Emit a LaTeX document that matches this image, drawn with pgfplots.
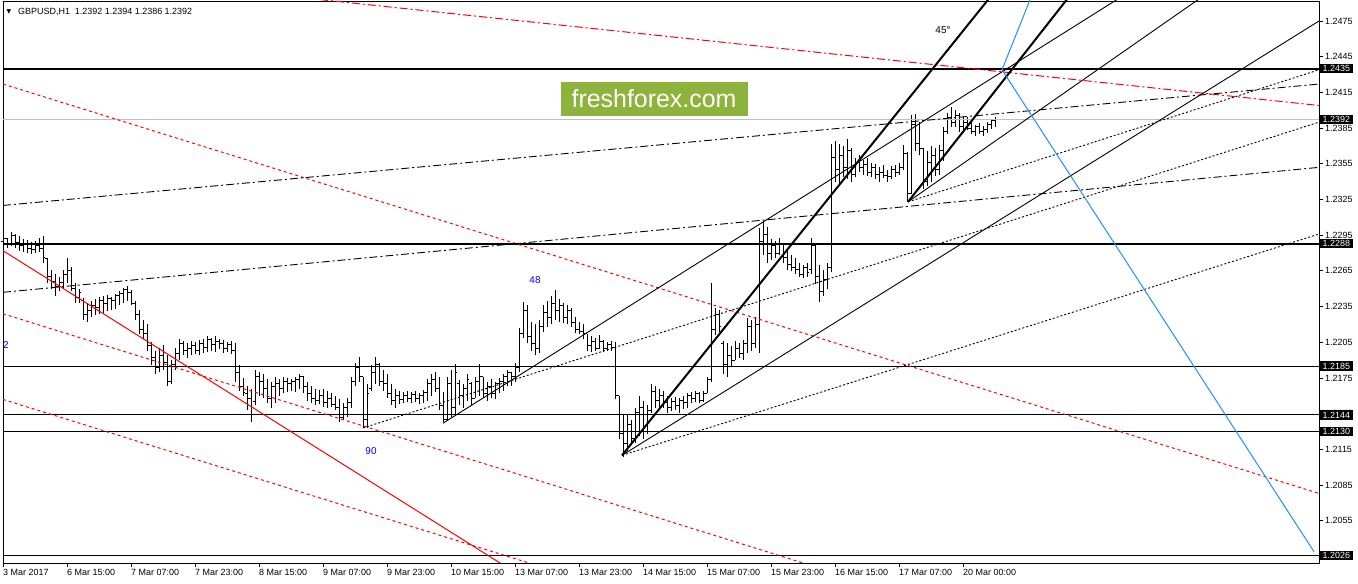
\documentclass[border=0pt]{standalone}
\usepackage{pgfplots}
\pgfplotsset{compat=1.18}
\usepackage{pgfplotstable}
\usepackage{fontspec}
\setmainfont{Liberation Sans}
\newfontfamily\symfont{DejaVu Sans}

\definecolor{mtblue}{RGB}{30,144,255}
\definecolor{mtgreen}{RGB}{141,179,60}
\definecolor{mtgray}{RGB}{192,192,192}
\definecolor{lblue}{RGB}{0,0,255}

% GBPUSD H1 bars: x position (4 per bar), open high low close
\pgfplotstableread{
x o h l c
3 1.2290 1.2297 1.2285 1.2292
7 1.2292 1.2293 1.2284 1.2287
11 1.2287 1.2298 1.2286 1.2295
15 1.2295 1.2296 1.2284 1.2289
19 1.2289 1.2294 1.2282 1.2286
23 1.2286 1.2292 1.2281 1.2288
27 1.2288 1.2291 1.2280 1.2284
31 1.2284 1.2289 1.2279 1.2283
35 1.2283 1.2290 1.2280 1.2286
39 1.2286 1.2293 1.2281 1.2284
43 1.2284 1.2294 1.2272 1.2276
47 1.2275 1.2276 1.2255 1.2260
51 1.2260 1.2266 1.2250 1.2256
55 1.2256 1.2262 1.2244 1.2252
59 1.2252 1.2260 1.2248 1.2255
63 1.2255 1.2266 1.2250 1.2262
67 1.2262 1.2276 1.2255 1.2265
71 1.2265 1.2268 1.2248 1.2250
75 1.2250 1.2255 1.2238 1.2243
79 1.2243 1.2250 1.2238 1.2247
83 1.2240 1.2242 1.2224 1.2228
87 1.2228 1.2238 1.2222 1.2232
91 1.2232 1.2240 1.2226 1.2236
95 1.2236 1.2241 1.2228 1.2234
99 1.2234 1.2243 1.2229 1.2240
103 1.2240 1.2244 1.2230 1.2238
107 1.2238 1.2245 1.2231 1.2242
111 1.2242 1.2243 1.2232 1.2240
115 1.2240 1.2246 1.2233 1.2244
119 1.2244 1.2248 1.2236 1.2246
123 1.2246 1.2251 1.2238 1.2249
127 1.2249 1.2252 1.2240 1.2247
131 1.2247 1.2249 1.2236 1.2238
135 1.2238 1.2240 1.2224 1.2228
139 1.2228 1.2232 1.2212 1.2216
143 1.2216 1.2224 1.2208 1.2212
147 1.2212 1.2220 1.2198 1.2202
151 1.2202 1.2205 1.2186 1.2192
155 1.2192 1.2198 1.2178 1.2184
159 1.2184 1.2200 1.2180 1.2194
163 1.2194 1.2203 1.2182 1.2188
167 1.2188 1.2194 1.2168 1.2172
171 1.2172 1.2190 1.2170 1.2186
175 1.2186 1.2200 1.2182 1.2196
179 1.2196 1.2208 1.2190 1.2204
183 1.2204 1.2206 1.2194 1.2198
187 1.2198 1.2204 1.2192 1.2200
191 1.2200 1.2206 1.2194 1.2202
195 1.2202 1.2205 1.2195 1.2198
199 1.2198 1.2207 1.2194 1.2204
203 1.2204 1.2208 1.2196 1.2201
207 1.2201 1.2210 1.2197 1.2207
211 1.2207 1.2209 1.2198 1.2203
215 1.2203 1.2210 1.2197 1.2206
219 1.2206 1.2208 1.2199 1.2204
223 1.2204 1.2207 1.2196 1.2200
227 1.2200 1.2205 1.2197 1.2203
231 1.2203 1.2206 1.2195 1.2198
235 1.2198 1.2204 1.2172 1.2180
239 1.2180 1.2186 1.2164 1.2168
243 1.2168 1.2175 1.2160 1.2163
247 1.2162 1.2168 1.2148 1.2158
251 1.2158 1.2166 1.2138 1.2150
255 1.2155 1.2182 1.2152 1.2176
259 1.2176 1.2180 1.2160 1.2172
263 1.2172 1.2178 1.2158 1.2166
267 1.2166 1.2174 1.2154 1.2158
271 1.2158 1.2172 1.2150 1.2168
275 1.2168 1.2176 1.2154 1.2170
279 1.2170 1.2174 1.2160 1.2166
283 1.2166 1.2176 1.2162 1.2172
287 1.2172 1.2175 1.2163 1.2170
291 1.2170 1.2174 1.2164 1.2172
295 1.2172 1.2176 1.2163 1.2174
299 1.2174 1.2178 1.2166 1.2176
303 1.2176 1.2177 1.2162 1.2168
307 1.2168 1.2172 1.2156 1.2162
311 1.2162 1.2168 1.2154 1.2158
315 1.2158 1.2166 1.2152 1.2156
319 1.2156 1.2165 1.2153 1.2160
323 1.2160 1.2166 1.2151 1.2154
327 1.2154 1.2164 1.2150 1.2158
331 1.2158 1.2162 1.2151 1.2153
335 1.2153 1.2160 1.2148 1.2150
339 1.2150 1.2157 1.2138 1.2142
343 1.2142 1.2154 1.2140 1.2150
347 1.2150 1.2158 1.2142 1.2154
351 1.2154 1.2176 1.2150 1.2172
355 1.2172 1.2188 1.2168 1.2184
359 1.2184 1.2193 1.2172 1.2176
363 1.2176 1.2176 1.2133 1.2140
367 1.2140 1.2170 1.2133 1.2162
371 1.2166 1.2186 1.2164 1.2180
375 1.2180 1.2193 1.2170 1.2186
379 1.2186 1.2188 1.2168 1.2172
383 1.2172 1.2182 1.2164 1.2170
387 1.2170 1.2178 1.2158 1.2162
391 1.2162 1.2170 1.2152 1.2156
395 1.2156 1.2166 1.2150 1.2160
399 1.2160 1.2164 1.2153 1.2157
403 1.2157 1.2163 1.2154 1.2160
407 1.2160 1.2164 1.2155 1.2158
411 1.2158 1.2163 1.2154 1.2161
415 1.2161 1.2164 1.2155 1.2158
419 1.2158 1.2162 1.2153 1.2160
423 1.2160 1.2165 1.2154 1.2163
427 1.2163 1.2174 1.2156 1.2170
431 1.2170 1.2178 1.2160 1.2174
435 1.2174 1.2180 1.2163 1.2166
439 1.2166 1.2176 1.2148 1.2152
443 1.2152 1.2163 1.2138 1.2140
447 1.2140 1.2176 1.2140 1.2170
451 1.2170 1.2182 1.2142 1.2150
455 1.2150 1.2187 1.2143 1.2180
459 1.2170 1.2173 1.2152 1.2160
463 1.2160 1.2170 1.2150 1.2166
467 1.2166 1.2178 1.2156 1.2174
471 1.2170 1.2172 1.2152 1.2158
475 1.2158 1.2176 1.2158 1.2172
479 1.2172 1.2187 1.2160 1.2176
483 1.2176 1.2176 1.2158 1.2162
487 1.2162 1.2172 1.2156 1.2168
491 1.2168 1.2174 1.2158 1.2162
495 1.2162 1.2172 1.2157 1.2170
499 1.2170 1.2175 1.2162 1.2172
503 1.2172 1.2178 1.2164 1.2176
507 1.2176 1.2182 1.2168 1.2180
511 1.2180 1.2180 1.2168 1.2176
515 1.2176 1.2188 1.2172 1.2184
519 1.2184 1.2217 1.2180 1.2212
523 1.2212 1.2239 1.2209 1.2232
527 1.2232 1.2236 1.2204 1.2210
531 1.2210 1.2222 1.2198 1.2204
535 1.2204 1.2220 1.2194 1.2200
539 1.2200 1.2224 1.2196 1.2218
543 1.2218 1.2236 1.2214 1.2230
547 1.2230 1.2240 1.2218 1.2226
551 1.2226 1.2244 1.2220 1.2238
555 1.2238 1.2249 1.2224 1.2232
559 1.2232 1.2241 1.2222 1.2236
563 1.2236 1.2238 1.2221 1.2226
567 1.2226 1.2236 1.2220 1.2232
571 1.2232 1.2234 1.2218 1.2222
575 1.2222 1.2226 1.2213 1.2216
579 1.2216 1.2222 1.2212 1.2214
583 1.2214 1.2220 1.2208 1.2212
587 1.2212 1.2212 1.2198 1.2202
591 1.2202 1.2210 1.2197 1.2206
595 1.2206 1.2209 1.2198 1.2200
599 1.2200 1.2211 1.2199 1.2206
603 1.2206 1.2207 1.2197 1.2200
607 1.2200 1.2205 1.2198 1.2203
611 1.2203 1.2206 1.2198 1.2201
615 1.2201 1.2205 1.2157 1.2160
619 1.2160 1.2160 1.2124 1.2128
623 1.2128 1.2144 1.2109 1.2120
627 1.2120 1.2144 1.2114 1.2136
631 1.2136 1.2140 1.2119 1.2124
635 1.2124 1.2150 1.2120 1.2146
639 1.2146 1.2160 1.2126 1.2150
643 1.2150 1.2156 1.2124 1.2130
647 1.2130 1.2152 1.2128 1.2148
651 1.2148 1.2170 1.2146 1.2164
655 1.2164 1.2168 1.2150 1.2156
659 1.2156 1.2166 1.2148 1.2160
663 1.2160 1.2164 1.2150 1.2154
667 1.2154 1.2160 1.2146 1.2150
671 1.2150 1.2158 1.2147 1.2155
675 1.2155 1.2159 1.2148 1.2152
679 1.2152 1.2158 1.2146 1.2156
683 1.2156 1.2160 1.2149 1.2154
687 1.2154 1.2162 1.2150 1.2160
691 1.2160 1.2163 1.2154 1.2158
695 1.2158 1.2164 1.2155 1.2162
699 1.2162 1.2163 1.2154 1.2156
703 1.2156 1.2164 1.2155 1.2162
707 1.2162 1.2176 1.2162 1.2174
711 1.2174 1.2255 1.2172 1.2216
715 1.2216 1.2234 1.2211 1.2228
719 1.2228 1.2232 1.2214 1.2218
723 1.2204 1.2206 1.2178 1.2186
727 1.2186 1.2204 1.2176 1.2194
731 1.2194 1.2202 1.2184 1.2190
735 1.2190 1.2206 1.2190 1.2200
739 1.2200 1.2204 1.2192 1.2196
743 1.2196 1.2207 1.2190 1.2204
747 1.2204 1.2225 1.2196 1.2218
751 1.2218 1.2224 1.2198 1.2204
755 1.2204 1.2226 1.2200 1.2220
759 1.2220 1.2301 1.2196 1.2290
763 1.2290 1.2307 1.2278 1.2296
767 1.2296 1.2302 1.2272 1.2280
771 1.2280 1.2292 1.2274 1.2286
775 1.2286 1.2290 1.2276 1.2280
779 1.2280 1.2293 1.2278 1.2288
783 1.2288 1.2288 1.2272 1.2276
787 1.2276 1.2282 1.2266 1.2270
791 1.2270 1.2278 1.2265 1.2268
795 1.2268 1.2276 1.2262 1.2266
799 1.2266 1.2272 1.2260 1.2262
803 1.2262 1.2270 1.2259 1.2268
807 1.2268 1.2272 1.2260 1.2264
811 1.2266 1.2293 1.2262 1.2286
815 1.2286 1.2287 1.2254 1.2260
819 1.2260 1.2270 1.2239 1.2248
823 1.2248 1.2266 1.2244 1.2258
827 1.2258 1.2272 1.2250 1.2268
831 1.2268 1.2372 1.2264 1.2360
835 1.2360 1.2374 1.2340 1.2350
839 1.2350 1.2372 1.2336 1.2362
843 1.2362 1.2370 1.2344 1.2352
847 1.2352 1.2376 1.2342 1.2366
851 1.2366 1.2368 1.2340 1.2346
855 1.2346 1.2360 1.2344 1.2356
859 1.2356 1.2362 1.2348 1.2352
863 1.2352 1.2358 1.2346 1.2354
867 1.2354 1.2360 1.2345 1.2348
871 1.2348 1.2356 1.2344 1.2352
875 1.2352 1.2355 1.2342 1.2346
879 1.2346 1.2352 1.2340 1.2348
883 1.2348 1.2354 1.2343 1.2345
887 1.2345 1.2350 1.2340 1.2344
891 1.2344 1.2353 1.2342 1.2350
895 1.2350 1.2354 1.2344 1.2348
899 1.2348 1.2356 1.2346 1.2352
903 1.2352 1.2371 1.2350 1.2364
907 1.2364 1.2365 1.2323 1.2330
911 1.2330 1.2396 1.2330 1.2388
915 1.2388 1.2397 1.2366 1.2372
919 1.2372 1.2390 1.2362 1.2368
923 1.2368 1.2368 1.2334 1.2340
927 1.2340 1.2366 1.2336 1.2356
931 1.2356 1.2370 1.2340 1.2362
935 1.2362 1.2368 1.2345 1.2350
939 1.2350 1.2371 1.2346 1.2366
943 1.2366 1.2386 1.2357 1.2382
947 1.2382 1.2398 1.2380 1.2394
951 1.2394 1.2403 1.2386 1.2390
955 1.2390 1.2400 1.2386 1.2396
959 1.2396 1.2398 1.2382 1.2386
963 1.2386 1.2395 1.2381 1.2390
967 1.2390 1.2394 1.2383 1.2385
971 1.2385 1.2390 1.2380 1.2382
975 1.2382 1.2388 1.2378 1.2386
979 1.2386 1.2389 1.2380 1.2382
983 1.2382 1.2387 1.2378 1.2384
987 1.2384 1.2390 1.2381 1.2388
991 1.2388 1.2393 1.2384 1.2391
995 1.2391 1.2394 1.2386 1.2392
}\bars

\tikzset{
  mtdot/.style={dash pattern=on 2bp off 2bp},
  mtdash/.style={dash pattern=on 3bp off 3bp},
  mtdashdot/.style={dash pattern=on 8bp off 3bp on 2bp off 3bp},
  lvl/.style={fill=black, text=white, anchor=west, inner xsep=2.5bp, inner ysep=1.5bp,
    font=\fontsize{9}{10}\selectfont},
}

\begin{document}
\begin{tikzpicture}
\path[use as bounding box] (-3bp,-21bp) rectangle (1355bp,563bp);
\begin{axis}[
  at={(0,0)}, anchor=south west,
  scale only axis, width=1316bp, height=562bp,
  xmin=3, xmax=1319, ymin=1.2019538, ymax=1.2491807,
  clip mode=individual,
  axis line style={black, line width=0.9bp},
  tick style={black, line width=0.9bp},
  tick align=outside, major tick length=4bp,
  xtick pos=bottom, ytick pos=right,
  xtick={3,67,131,195,259,323,387,451,515,579,643,707,771,835,899,963},
  xticklabels={3 Mar 2017,6 Mar 15:00,7 Mar 07:00,7 Mar 23:00,8 Mar 15:00,9 Mar 07:00,9 Mar 23:00,10 Mar 15:00,13 Mar 07:00,13 Mar 23:00,14 Mar 15:00,15 Mar 07:00,15 Mar 23:00,16 Mar 15:00,17 Mar 07:00,20 Mar 00:00},
  ytick={1.2025,1.2055,1.2085,1.2115,1.2145,1.2175,1.2205,1.2235,1.2265,1.2295,1.2325,1.2355,1.2385,1.2415,1.2445,1.2475},
  yticklabels={1.2025,1.2055,1.2085,1.2115,1.2145,1.2175,1.2205,1.2235,1.2265,1.2295,1.2325,1.2355,1.2385,1.2415,1.2445,1.2475},
  tick label style={font=\fontsize{9}{10}\selectfont, text=black},
  xticklabel style={anchor=north west, xshift=-1.5bp, yshift=-1bp, inner sep=1.5bp},
  yticklabel style={anchor=west, inner sep=2bp},
]
% price bars: high-low ranges, then open (left) and close (right) ticks
\addplot[draw=none, mark=none, forget plot,
  error bars/.cd, y dir=plus, y explicit, error mark=none,
  error bar style={draw=black, solid, line width=1bp}]
  table[x=x, y=l, y error expr=\thisrow{h}-\thisrow{l}] {\bars};
\addplot[black, only marks, mark=-, mark size=1bp,
  mark options={xshift=-1bp, line width=1bp}] table[x=x, y=o] {\bars};
\addplot[black, only marks, mark=-, mark size=1bp,
  mark options={xshift=1bp, line width=1bp}] table[x=x, y=c] {\bars};

% horizontal levels
\addplot[black, line width=2bp] coordinates {(3,1.2435) (1319,1.2435)};
\addplot[mtgray, line width=1bp] coordinates {(3,1.2392) (1319,1.2392)};
\addplot[black, line width=2bp] coordinates {(3,1.2288) (1319,1.2288)};
\addplot[black, line width=1bp] coordinates {(3,1.2185) (1319,1.2185)};
\addplot[black, line width=1bp] coordinates {(3,1.2144) (1319,1.2144)};
\addplot[black, line width=1bp] coordinates {(3,1.2130) (1319,1.2130)};
\addplot[black, line width=1bp] coordinates {(3,1.2026) (1319,1.2026)};

% red channel lines
\addplot[red, line width=1bp] coordinates {(3,1.2282) (520,1.2009)};
\addplot[red, line width=1bp, mtdash] coordinates {(3,1.2229) (1000,1.1968)};
\addplot[red, line width=1bp, mtdash] coordinates {(3,1.2157) (600,1.2001)};
\addplot[red, line width=1bp, mtdash] coordinates {(3,1.2422) (1319,1.2078)};
\addplot[red, line width=1bp, mtdashdot] coordinates {(320,1.2493) (1319,1.2404)};

% black trend and fan lines
\addplot[black, line width=0.9bp, mtdashdot] coordinates {(3,1.2247) (1319,1.2352)};
\addplot[black, line width=0.9bp, mtdashdot] coordinates {(3,1.2320) (1319,1.2422)};
\addplot[black, line width=0.9bp, mtdot] coordinates {(363,1.2133) (1319,1.2390)};
\addplot[black, line width=0.9bp] coordinates {(443,1.2137) (1124.5,1.2497)};
\addplot[black, line width=0.9bp] coordinates {(622,1.2110) (1319,1.2475)};
\addplot[black, line width=0.9bp, mtdot] coordinates {(622,1.2110) (1319,1.2296)};
\addplot[black, line width=0.9bp] coordinates {(908,1.2323) (1205,1.2497)};
\addplot[black, line width=0.9bp, mtdot] coordinates {(908,1.2323) (1319,1.2434)};
\addplot[black, line width=2bp] coordinates {(622,1.2110) (992,1.2497)};
\addplot[black, line width=2bp] coordinates {(908,1.2323) (1070.5,1.2497)};

% blue line
\addplot[mtblue, line width=1bp] coordinates {(1032,1.2497) (1002,1.2434) (1314,1.2029)};

% texts
\node[anchor=west, font=\fontsize{9}{10}\selectfont, inner sep=0pt] at (axis cs:18,1.2483) {GBPUSD,H1\ \ 1.2392 1.2394 1.2386 1.2392};
\node[font=\symfont\fontsize{6}{6}\selectfont, inner sep=0pt] at (axis cs:9,1.2483) {▼};
\node[fill=mtgreen, text=white, minimum width=187bp, minimum height=34bp, inner sep=0pt,
  font=\fontsize{25}{26}\selectfont] at (axis cs:654,1.24095) {freshforex.com};
\node[text=lblue, font=\fontsize{10}{11}\selectfont] at (axis cs:535,1.22574) {48};
\node[text=lblue, font=\fontsize{10}{11}\selectfont] at (axis cs:371,1.21138) {90};
\node[text=lblue, font=\fontsize{10}{11}\selectfont, anchor=west, inner sep=0pt] at (axis cs:3,1.2203) {2};
\node[font=\fontsize{10}{11}\selectfont] at (axis cs:943,1.24674) {45°};

% level labels on the price scale
\node[lvl] at (axis cs:1320,1.2435) {1.2435};
\node[lvl] at (axis cs:1320,1.2392) {1.2392};
\node[lvl] at (axis cs:1320,1.2288) {1.2288};
\node[lvl] at (axis cs:1320,1.2185) {1.2185};
\node[lvl] at (axis cs:1320,1.2144) {1.2144};
\node[lvl] at (axis cs:1320,1.2130) {1.2130};
\node[lvl] at (axis cs:1320,1.2026) {1.2026};
\end{axis}
\end{tikzpicture}
\end{document}
